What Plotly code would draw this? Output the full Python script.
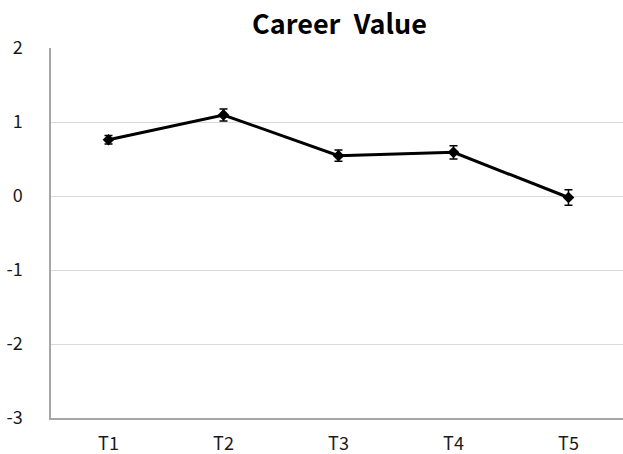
import plotly.graph_objects as go

# Career value means per time point, with their error margins
time_points = ["T1", "T2", "T3", "T4", "T5"]
career_value = [0.76, 1.095, 0.545, 0.59, -0.02]
error_margin = [0.058, 0.08, 0.075, 0.09, 0.105]
y_ticks = [-3, -2, -1, 0, 1, 2]
y_tick_labels = ["-3", "-2", "-1", "0", "1", "2"]

font_family = "Noto Sans CJK KR, Noto Sans, sans-serif"

fig = go.Figure(
    go.Scatter(
        x=list(range(len(time_points))),
        y=career_value,
        mode="lines+markers",
        line=dict(color="black", width=3),
        marker=dict(symbol="diamond", size=9, color="black"),
        error_y=dict(type="data", array=error_margin, visible=True,
                     color="black", thickness=1.5, width=4),
        showlegend=False,
    )
)

fig.update_layout(
    width=623,
    height=454,
    margin=dict(l=51, r=0, t=48, b=36, autoexpand=False),
    paper_bgcolor="white",
    plot_bgcolor="white",
    font=dict(family=font_family, size=18, color="#1a1a1a"),
    title=dict(text="<b>Career\u2002Value</b>", x=0.545, xanchor="center",
               y=0.945, yanchor="middle",
               font=dict(family=font_family, size=27, color="black")),
)

fig.update_xaxes(
    tickmode="array",
    tickvals=list(range(len(time_points))),
    ticktext=time_points,
    range=[-0.5, 4.474],
    showgrid=False,
    showline=True,
    linecolor="#a6a6a6",
    linewidth=1.5,
    ticks="",
    ticklabelstandoff=9,
    zeroline=False,
    automargin=False,
)

fig.update_yaxes(
    range=[-3, 2],
    tickmode="array",
    tickvals=y_ticks,
    ticktext=y_tick_labels,
    showgrid=True,
    gridcolor="#d9d9d9",
    gridwidth=1,
    showline=True,
    linecolor="#a6a6a6",
    linewidth=1.5,
    ticks="",
    ticklabelstandoff=23,
    zeroline=False,
    automargin=False,
)

fig.write_html("out.html")
